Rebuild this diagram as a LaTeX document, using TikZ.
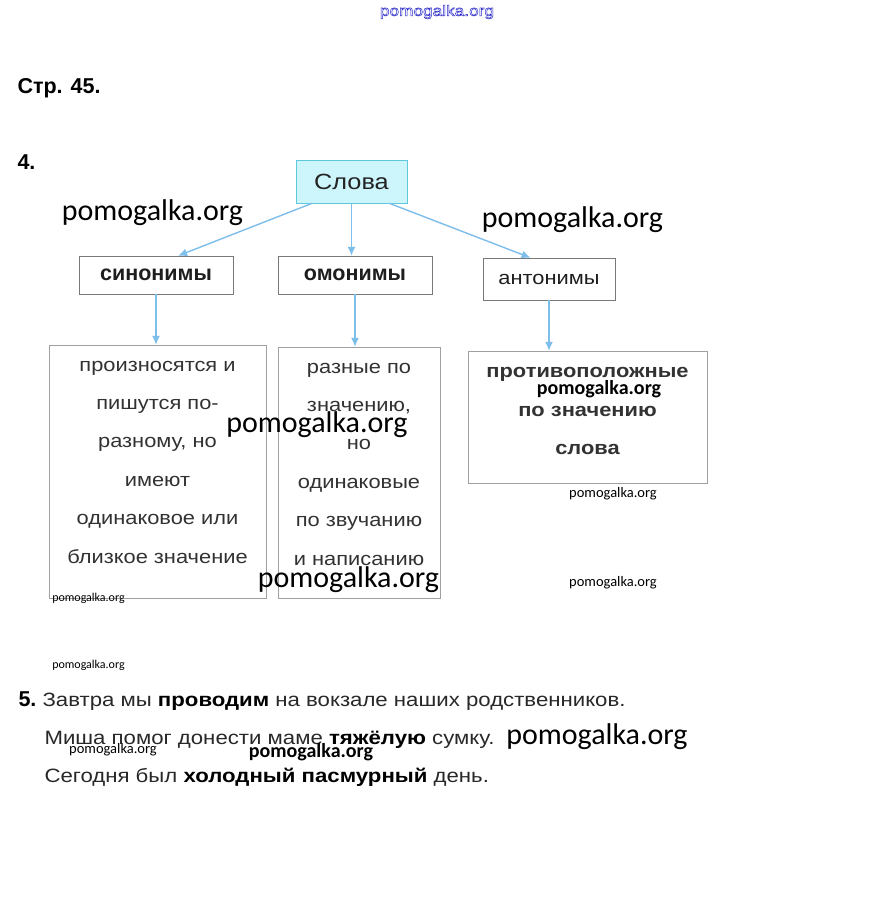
\documentclass[tikz,border=0pt]{standalone}
\usepackage{fontspec}
\setmainfont[FakeStretch=1.15]{Liberation Sans}
\newfontfamily\labelfont{Liberation Sans}
\newfontfamily\wmfont{Carlito}
\usetikzlibrary{arrows.meta}
\definecolor{arrowblue}{RGB}{125,190,235}
\definecolor{cyanfill}{RGB}{205,245,252}
\definecolor{cyanline}{RGB}{95,200,220}
\definecolor{boxline}{RGB}{120,120,120}
\definecolor{textgray}{RGB}{50,50,50}
\definecolor{sitecol}{RGB}{40,40,200}
\newcommand{\hollow}[1]{\special{pdf:literal direct 1 Tr 0.5 w}#1\special{pdf:literal direct 0 Tr}}

\begin{document}
\begin{tikzpicture}[x=1pt,y=-1pt,
	topbox/.style={draw=cyanline,fill=cyanfill,minimum width=111pt,minimum height=43pt,inner sep=0pt,text=textgray!70!black,font=\fontsize{22}{22}\selectfont},
	kindbox/.style={draw=boxline,minimum height=38pt,inner sep=0pt,text=textgray!60!black,font=\labelfont\bfseries\fontsize{21.5}{21.5}\selectfont},
	defbox/.style={draw=boxline!70,inner sep=0pt},
	deftext/.style={align=center,text=textgray,font=\fontsize{19}{38.4}\selectfont},
	link/.style={draw=arrowblue,line width=1.4pt,-{Latex[length=9pt,width=8pt]}},
	wmbig/.style={font=\wmfont\fontsize{30}{30}\selectfont},
	wmmid/.style={font=\wmfont\bfseries\fontsize{20}{20}\selectfont},
	wmsmall/.style={font=\wmfont\fontsize{14.5}{14.5}\selectfont},
	numtext/.style={anchor=base west,font=\labelfont\bfseries\fontsize{21.5}{21.5}\selectfont},
	line/.style={anchor=base west,text=textgray!80!black,font=\fontsize{19.3}{19.3}\selectfont}]
	\fill[white] (0,0) rectangle (873,910);
	\useasboundingbox (0,0) rectangle (873,910);

	\node[text=sitecol,font=\fontsize{15}{15}\selectfont] (site) at (437,12) {\hollow{pomogalka.org}};
	\node[numtext] (page) at (14,93) {Стр. 45.};
	\node[numtext] (num4) at (14,169) {4.};

	% schema
	\node[topbox] (slova) at (351.5,181.5) {Слова};
	\node[kindbox,minimum width=154pt] (sin) at (156,275) {синонимы};
	\node[kindbox,minimum width=154pt] (om) at (355,275) {омонимы};
	\node[kindbox,minimum width=132pt,minimum height=42pt,font=\fontsize{19}{19}\selectfont] (ant) at (549,279) {антонимы};

	\node[defbox,minimum width=217pt,minimum height=253pt] (def1) at (157.5,471.5) {};
	\node[defbox,minimum width=162pt,minimum height=251pt] (def2) at (359,472.5) {};
	\node[defbox,minimum width=239pt,minimum height=132pt] (def3) at (587.5,417) {};
	\node[deftext] (text1) at (157.5,462) {произносятся и\\пишутся по-\\разному, но\\имеют\\одинаковое или\\близкое значение};
	\node[deftext] (text2) at (359,464) {разные по\\значению,\\но\\одинаковые\\по звучанию\\и написанию};
	\node[deftext,font=\bfseries\fontsize{19}{38.4}\selectfont] (text3) at (587.5,411) {противоположные\\по значению\\слова};

	\draw[link] (slova.209) -- (sin.41);
	\draw[link] (slova.south) -- (slova.south |- om.north);
	\draw[link] (slova.330) -- (ant.131);
	\draw[link] (sin.south) -- (sin.south |- def1.north);
	\draw[link] (om.south) -- (om.south |- def2.north);
	\draw[link] (ant.south) -- (ant.south |- def3.north);

	% task 5
	\node[numtext] (num5) at (15,706) {5.};
	\node[line] (line1) at (39,706) {Завтра мы \textbf{\color{black}проводим} на вокзале наших родственников.};
	\node[line] (line2) at (41,744) {Миша помог донести маме \textbf{\color{black}тяжёлую} сумку.};
	\node[line] (line3) at (41,782) {Сегодня был \textbf{\color{black}холодный пасмурный} день.};

	% watermarks
	\node[wmbig] (wm1) at (152.5,213) {pomogalka.org};
	\node[wmbig] (wm2) at (572.5,220) {pomogalka.org};
	\node[wmbig] (wm3) at (317,425) {pomogalka.org};
	\node[wmbig] (wm4) at (348.5,580) {pomogalka.org};
	\node[wmbig] (wm5) at (597,737) {pomogalka.org};
	\node[wmmid] (wm6) at (599,389) {pomogalka.org};
	\node[wmmid] (wm7) at (311,752) {pomogalka.org};
	\node[wmsmall,font=\wmfont\fontsize{12}{12}\selectfont] (wm8) at (88.5,598) {pomogalka.org};
	\node[wmsmall] (wm9) at (613,494) {pomogalka.org};
	\node[wmsmall] (wm10) at (613,583) {pomogalka.org};
	\node[wmsmall,font=\wmfont\fontsize{12}{12}\selectfont] (wm11) at (88.5,665) {pomogalka.org};
	\node[wmsmall] (wm12) at (113,750) {pomogalka.org};
\end{tikzpicture}
\end{document}
